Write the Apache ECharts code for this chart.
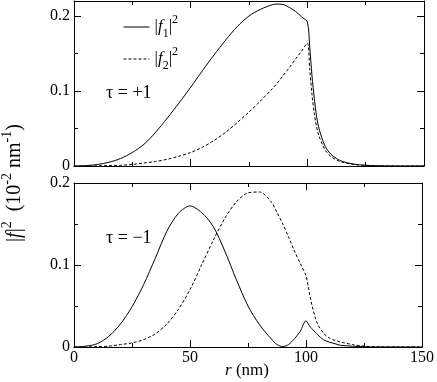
<!DOCTYPE html>
<html>
<head>
<meta charset="utf-8">
<script src="https://cdn.jsdelivr.net/npm/echarts@6/dist/echarts.min.js"></script>
<style>
  html, body { margin: 0; padding: 0; background: #fff; }
  #chart { width: 437px; height: 382px; }
</style>
</head>
<body>
<div id="chart"></div>
<script>
// radius (nm)
const r = [0, 5, 10, 15, 20, 25, 30, 35, 40, 45, 50, 55, 60, 65, 70, 75, 80, 85, 87.5, 90, 92.5, 95, 97.5, 100,
  101, 102, 103, 104, 105, 107.5, 110, 112.5, 115, 120, 125, 130, 140, 150]

// tau = +1
const f1Plus = [0, 0.0005, 0.002, 0.005, 0.01, 0.018, 0.029, 0.045, 0.064, 0.084, 0.105, 0.127, 0.148, 0.168, 0.186, 0.2, 0.209, 0.215, 0.216, 0.215,
  0.211, 0.206, 0.199, 0.192, 0.16, 0.12, 0.09, 0.065, 0.05, 0.027, 0.016, 0.01, 0.006, 0.0025, 0.001, 0.0003, 0, 0]
const f2Plus = [0, 0, 0.0002, 0.0005, 0.001, 0.002, 0.004, 0.006, 0.009, 0.013, 0.018, 0.025, 0.034, 0.045, 0.058, 0.072, 0.087, 0.103, 0.112, 0.122,
  0.132, 0.143, 0.153, 0.164, 0.13, 0.095, 0.07, 0.052, 0.04, 0.022, 0.013, 0.008, 0.005, 0.002, 0.0008, 0.0002, 0, 0]

// tau = -1
const f1Minus = [0, 0.001, 0.004, 0.013, 0.028, 0.049, 0.076, 0.108, 0.141, 0.163, 0.172, 0.164, 0.147, 0.117, 0.082, 0.05, 0.027, 0.01, 0.003, 0.0005,
  0.003, 0.01, 0.019, 0.032, 0.028, 0.024, 0.021, 0.018, 0.015, 0.009, 0.006, 0.004, 0.002, 0.001, 0.0003, 0, 0, 0]
const f2Minus = [0, 0, 0.0005, 0.001, 0.003, 0.005, 0.009, 0.016, 0.028, 0.046, 0.07, 0.1, 0.13, 0.157, 0.177, 0.188, 0.189, 0.177, 0.164, 0.15,
  0.134, 0.117, 0.102, 0.087, 0.073, 0.058, 0.046, 0.036, 0.028, 0.017, 0.011, 0.008, 0.006, 0.003, 0.001, 0.0003, 0, 0]

const xTicks = [0, 50, 100, 150]
const yTicks = [0, 0.1, 0.2]

const serif = '"Liberation Serif", "Times New Roman", serif'
const black = '#000'

const richText = {
  n: { fontFamily: serif, fontSize: 17, color: black, lineHeight: 26 },
  i: { fontFamily: serif, fontSize: 17, fontStyle: 'italic', color: black, lineHeight: 26 },
  sub: { fontFamily: serif, fontSize: 12, color: black, verticalAlign: 'bottom', lineHeight: 26 },
  sup: { fontFamily: serif, fontSize: 12, color: black, verticalAlign: 'top', lineHeight: 26 },
}

function pairs(ys) {
  return r.map((x, i) => [x, ys[i]])
}

function xAxis(grid, pos, labels) {
  return {
    type: 'value',
    gridIndex: grid,
    position: pos,
    min: xTicks[0],
    max: xTicks[xTicks.length - 1],
    interval: 50,
    axisLine: { show: true, onZero: false, lineStyle: { color: black, width: 1 } },
    axisTick: { show: true, inside: true, length: 7, lineStyle: { color: black } },
    minorTick: { show: true, splitNumber: 2, length: 4, lineStyle: { color: black } },
    splitLine: { show: false },
    axisLabel: {
      show: labels,
      margin: 3,
      fontFamily: serif,
      fontSize: 16,
      color: black,
      hideOverlap: false,
    },
  }
}

function yAxis(grid, pos, max, labels) {
  return {
    type: 'value',
    gridIndex: grid,
    position: pos,
    min: 0,
    max: max,
    interval: 0.1,
    axisLine: { show: true, onZero: false, lineStyle: { color: black, width: 1 } },
    axisTick: { show: true, inside: true, length: 7, lineStyle: { color: black } },
    minorTick: { show: true, splitNumber: 2, length: 4, lineStyle: { color: black } },
    splitLine: { show: false },
    axisLabel: {
      show: labels,
      margin: 4,
      fontFamily: serif,
      fontSize: 16,
      color: black,
      showMaxLabel: max == 0.2,
      formatter: v => (yTicks.some(t => Math.abs(t - v) < 1e-9) ? String(+v.toFixed(1)) : ''),
    },
  }
}

function line(name, data, xi, yi, dashed) {
  return {
    name: name,
    type: 'line',
    xAxisIndex: xi,
    yAxisIndex: yi,
    data: pairs(data),
    symbol: 'none',
    smooth: 0.3,
    silent: true,
    lineStyle: { color: black, width: 1, type: dashed ? [3, 2] : 'solid' },
    itemStyle: { color: black },
  }
}

const chart = echarts.init(document.getElementById('chart'))

const option = {
  animation: false,
  backgroundColor: '#fff',
  grid: [
    { left: 74, right: 13, top: 1, height: 165 },
    { left: 74, right: 13, top: 183, height: 164 },
  ],
  xAxis: [
    xAxis(0, 'bottom', false),
    xAxis(0, 'top', false),
    xAxis(1, 'bottom', true),
    xAxis(1, 'top', false),
  ],
  yAxis: [
    yAxis(0, 'left', 0.22, true),
    yAxis(0, 'right', 0.22, false),
    yAxis(1, 'left', 0.2, true),
    yAxis(1, 'right', 0.2, false),
  ],
  legend: {
    orient: 'vertical',
    left: 118,
    top: 9,
    itemWidth: 26,
    itemHeight: 10,
    itemGap: 6,
    data: ['f1', 'f2'],
    itemStyle: { opacity: 0, borderWidth: 0 },
    lineStyle: { width: 1 },
    formatter: name => `{n||}{i|f}{sub|${name.slice(1)}}{n||}{sup|2}`,
    textStyle: { rich: richText },
  },
  graphic: [
    {
      type: 'text',
      x: 15,
      y: 183,
      rotation: Math.PI / 2,
      style: {
        text: '{n||}{i|f}{n||}{sup|2}{n|  (10}{sup|-2}{n| nm}{sup|-1}{n|)}',
        rich: {
          n: { fontFamily: serif, fontSize: 20, fill: black, lineHeight: 30 },
          i: { fontFamily: serif, fontSize: 20, fontStyle: 'italic', fill: black, lineHeight: 30 },
          sup: { fontFamily: serif, fontSize: 14, fill: black, verticalAlign: 'top', lineHeight: 30 },
        },
        textAlign: 'center',
        textVerticalAlign: 'middle',
      },
    },
    {
      type: 'text',
      x: 106,
      y: 93,
      style: { text: 'τ = +1', fontFamily: serif, fontSize: 18, fill: black, textVerticalAlign: 'middle' },
    },
    {
      type: 'text',
      x: 106,
      y: 238,
      style: { text: 'τ = −1', fontFamily: serif, fontSize: 18, fill: black, textVerticalAlign: 'middle' },
    },
    {
      type: 'text',
      x: 247,
      y: 371,
      style: {
        text: '{i|r}{n| (nm)}',
        rich: richText,
        textAlign: 'center',
        textVerticalAlign: 'middle',
      },
    },
  ],
  series: [
    line('f1', f1Plus, 0, 0, false),
    line('f2', f2Plus, 0, 0, true),
    line('f1', f1Minus, 2, 2, false),
    line('f2', f2Minus, 2, 2, true),
  ],
}

chart.setOption(option)
window.addEventListener('resize', () => {
  chart.resize()
})
</script>
</body>
</html>
